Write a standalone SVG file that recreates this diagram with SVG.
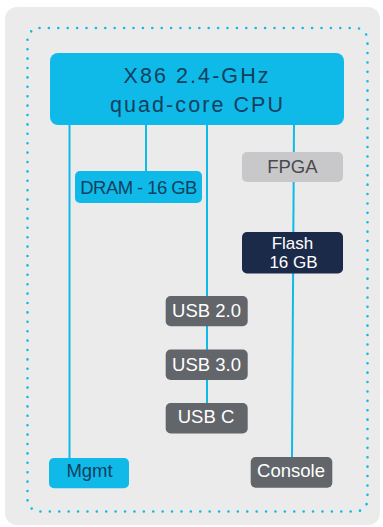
<svg xmlns="http://www.w3.org/2000/svg" width="383" height="527" viewBox="0 0 383 527">
  <style>
    text { font-family: "Liberation Sans", Arial, sans-serif; text-anchor: middle; }
    .cyan { fill: #0fbae8; }
    .cyantxt { fill: #12405f; }
    .gray { fill: #626569; }
    .whitetxt { fill: #ffffff; }
    .conn { stroke: #0fbae8; stroke-width: 2; fill: none; }
    .small { font-size: 18.5px; }
  </style>
  <rect x="0" y="0" width="383" height="527" fill="#ffffff"/>
  <rect id="chassis" x="5" y="7" width="375" height="518" rx="12" fill="#ebebeb"/>
  <rect id="board" x="27.5" y="28" width="340" height="483.5" rx="12" fill="none" stroke="#0fbae8" stroke-width="2.6" stroke-linecap="round" stroke-dasharray="0 9.4"/>
  <g id="connectors">
    <line class="conn" x1="69.5" y1="124" x2="69.5" y2="458"/>
    <line class="conn" x1="146" y1="124" x2="146" y2="171"/>
    <line class="conn" x1="207" y1="124" x2="207" y2="403"/>
    <line class="conn" x1="294" y1="124" x2="292" y2="457"/>
  </g>
  <g id="cpu">
    <rect class="cyan" x="50" y="53" width="294" height="72" rx="8"/>
    <text class="cyantxt" x="196" y="82.7" font-size="21.5" textLength="145" lengthAdjust="spacing">X86 2.4-GHz</text>
    <text class="cyantxt" x="196.5" y="112" font-size="21.5" textLength="173" lengthAdjust="spacing">quad-core CPU</text>
  </g>
  <g id="dram">
    <rect class="cyan" x="75" y="171" width="127" height="32" rx="5"/>
    <text class="cyantxt small" x="138.8" y="194.3" textLength="117" lengthAdjust="spacing">DRAM - 16 GB</text>
  </g>
  <g id="fpga">
    <rect x="242" y="152" width="101" height="30" rx="5" fill="#c8c8ca"/>
    <text class="small" x="292.4" y="173" fill="#4a4a4c">FPGA</text>
  </g>
  <g id="flash">
    <rect x="242" y="232" width="101" height="41.5" rx="5" fill="#1c2a4a"/>
    <text class="whitetxt" x="292.5" y="248.5" font-size="17">Flash</text>
    <text class="whitetxt" x="293.5" y="268" font-size="17">16 GB</text>
  </g>
  <g id="usb2">
    <rect class="gray" x="165.7" y="296" width="82" height="30.3" rx="5"/>
    <text class="whitetxt small" x="206.5" y="317.3">USB 2.0</text>
  </g>
  <g id="usb3">
    <rect class="gray" x="165.7" y="349.5" width="82" height="30.5" rx="5"/>
    <text class="whitetxt small" x="206.5" y="370.7">USB 3.0</text>
  </g>
  <g id="usbc">
    <rect class="gray" x="165.7" y="403" width="82" height="30.5" rx="5"/>
    <text class="whitetxt small" x="206" y="423.3">USB C</text>
  </g>
  <g id="mgmt">
    <rect class="cyan" x="49" y="458" width="80" height="30.3" rx="5"/>
    <text class="cyantxt small" x="89.5" y="477.3">Mgmt</text>
  </g>
  <g id="console">
    <rect class="gray" x="250.7" y="457" width="81.6" height="30.7" rx="5"/>
    <text class="whitetxt small" x="291" y="476.7">Console</text>
  </g>
</svg>
